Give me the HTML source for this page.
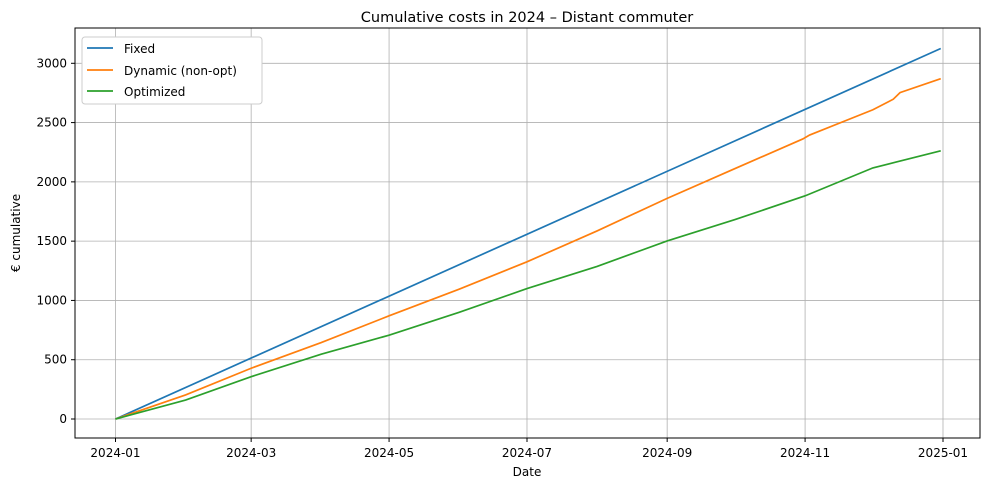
<!DOCTYPE html>
<html><head><meta charset="utf-8"><style>
body{margin:0;background:#fff;font-family:"Liberation Sans","DejaVu Sans",sans-serif}
svg text{font-family:"DejaVu Sans","Liberation Sans",sans-serif;font-size:12px;fill:#000}
</style></head><body>
<svg width="990" height="490">
<text x="527" y="22" text-anchor="middle" style="font-size:14.5px">Cumulative costs in 2024 – Distant commuter</text>
<g id="grid"></g><g id="axes"></g><g id="series"></g>
<rect x="75" y="28" width="905" height="410" fill="none" stroke="#000" stroke-width="1"/>
<text x="527" y="476" text-anchor="middle">Date</text>
<text transform="translate(20,233) rotate(-90)" text-anchor="middle">€ cumulative</text>
<g>
<rect x="82" y="37" width="180" height="67" rx="3" fill="#fff" stroke="#ccc"/>
<line x1="87" y1="48" x2="113" y2="48" stroke="#1f77b4" stroke-width="1.7"/><text x="124" y="53">Fixed</text>
<line x1="87" y1="70" x2="113" y2="70" stroke="#ff7f0e" stroke-width="1.7"/><text x="124" y="75">Dynamic (non-opt)</text>
<line x1="87" y1="91" x2="113" y2="91" stroke="#2ca02c" stroke-width="1.7"/><text x="124" y="96">Optimized</text>
</g>
</svg>
<script>
const yTicks=[0,500,1000,1500,2000,2500,3000];
const xTickLabels=["2024-01","2024-03","2024-05","2024-07","2024-09","2024-11","2025-01"];
const xTickDays=[0,60,121,182,244,305,366];
const fixedDays=[0,365];
const fixedVals=[0,3125];
const dynDays=[0,31,60,91,121,152,182,213,244,274,304,307,335,344,347,365];
const dynVals=[0,203,428,645,870,1095,1326,1586,1861,2112,2362,2395,2608,2697,2753,2870];
const optDays=[0,31,60,91,121,152,182,213,244,274,305,335,345,365];
const optVals=[0,160,357,547,707,900,1100,1287,1502,1682,1882,2118,2166,2262];
const X=d=>115.5+d*827.5/366, Y=v=>419-v*355.7/3000;
const NS="http://www.w3.org/2000/svg";
const g=document.getElementById('grid'),a=document.getElementById('axes'),s=document.getElementById('series');
function mk(tag,at,p){const e=document.createElementNS(NS,tag);for(const k in at)e.setAttribute(k,at[k]);p.appendChild(e);return e;}
yTicks.forEach(v=>{const y=Y(v);
const l=mk('line',{x1:75,x2:980,y1:y,y2:y,stroke:'#b0b0b0','stroke-width':0.8},g);


mk('line',{x1:71,x2:75,y1:y,y2:y,stroke:'#000'},a);
const t=mk('text',{x:67,y:y+4,'text-anchor':'end'},a);t.textContent=v;

});
xTickDays.forEach((d,i)=>{const x=X(d);
const l=mk('line',{x1:x,x2:x,y1:28,y2:438,stroke:'#b0b0b0','stroke-width':0.8},g);


mk('line',{x1:x,x2:x,y1:438,y2:442,stroke:'#000'},a);
const t=mk('text',{x:x,y:457,'text-anchor':'middle'},a);t.textContent=xTickLabels[i];

});
function line(ds,vs,c,n){const p=mk('polyline',{points:ds.map((d,i)=>X(d)+','+Y(vs[i])).join(' '),fill:'none',stroke:c,'stroke-width':1.7},s);

}
line(fixedDays,fixedVals,'#1f77b4','fixed-line');
line(dynDays,dynVals,'#ff7f0e','dynamic-line');
line(optDays,optVals,'#2ca02c','optimized-line');
</script>
</body></html>
